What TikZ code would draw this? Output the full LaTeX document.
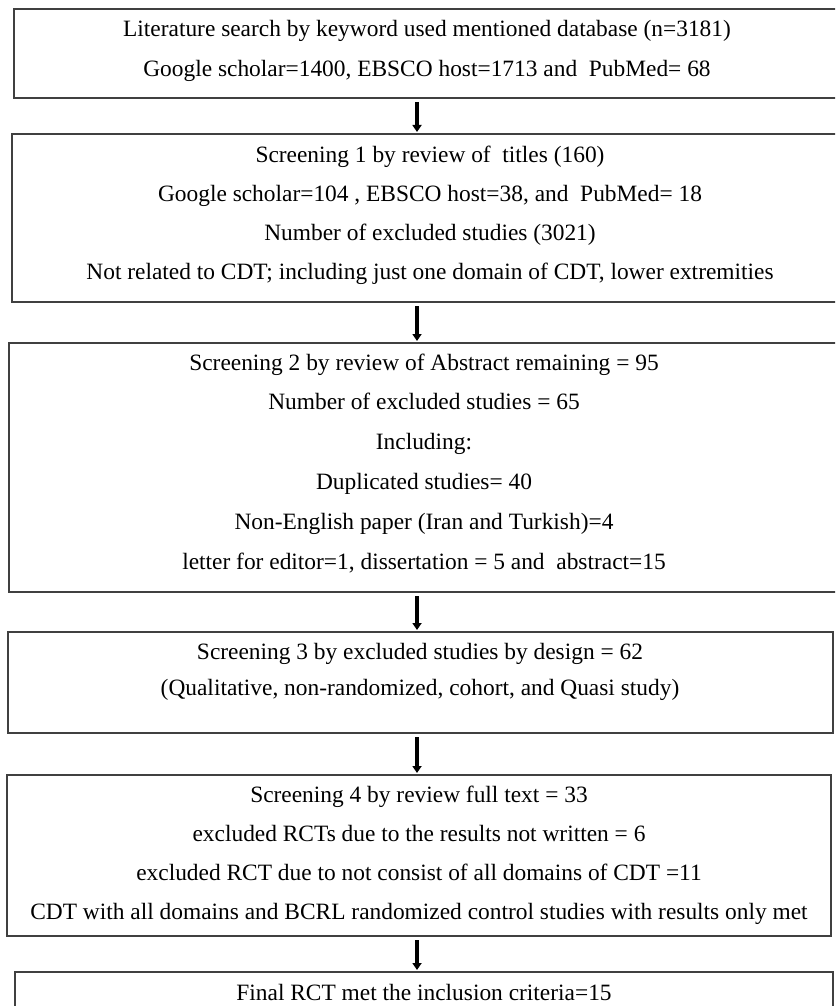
\documentclass[tikz,border=0pt]{standalone}
\usepackage{fontspec}
\setmainfont{Liberation Serif}
\usetikzlibrary{arrows.meta}
\setlength\tabcolsep{0pt}
\begin{document}
\begin{tikzpicture}[x=1pt,y=-1pt,
  stagebox/.style={draw=black!75, line width=2.6pt, anchor=north west, inner sep=0pt, outer sep=0pt},
  txt/.style={anchor=base, inner sep=0pt, text=black},
  flow/.style={draw=black, line width=3.6pt, -{Triangle[width=9pt,length=7pt]}, shorten <=4pt, shorten >=2pt}
]
\useasboundingbox (0,0) rectangle (835,1006);
\clip (0,0) rectangle (835,1006);
\fill[white] (0,0) rectangle (835,1006);

\node[stagebox, minimum width=831pt, minimum height=89pt]  (b1) at (14,9) {};
\node[stagebox, minimum width=836pt, minimum height=168pt] (b2) at (12,134) {};
\node[stagebox, minimum width=830pt, minimum height=249pt] (b3) at (9,343) {};
\node[stagebox, minimum width=825pt, minimum height=101pt] (b4) at (8,632) {};
\node[stagebox, minimum width=824pt, minimum height=161pt] (b5) at (7,775) {};
\node[stagebox, minimum width=818pt, minimum height=60pt]  (b6) at (15,972) {};

\node[txt] (t1) at (427,37) {\fontsize{23.4}{40}\selectfont\begin{tabular}[t]{c}
Literature search by keyword used mentioned database (n=3181)\\
Google scholar=1400, EBSCO host=1713 and~ PubMed= 68
\end{tabular}};

\node[txt] (t2) at (430,162) {\fontsize{23.4}{39}\selectfont\begin{tabular}[t]{c}
Screening 1 by review of~ titles (160)\\
Google scholar=104 , EBSCO host=38, and~ PubMed= 18\\
Number of excluded studies (3021)\\
Not related to CDT; including just one domain of CDT, lower extremities
\end{tabular}};

\node[txt] (t3) at (424,370) {\fontsize{23.4}{39.8}\selectfont\begin{tabular}[t]{c}
Screening 2 by review of Abstract remaining = 95\\
Number of excluded studies = 65\\
Including:\\
Duplicated studies= 40\\
Non-English paper (Iran and Turkish)=4\\
letter for editor=1, dissertation = 5 and~ abstract=15
\end{tabular}};

\node[txt] (t4) at (420,659) {\fontsize{23.4}{36}\selectfont\begin{tabular}[t]{c}
Screening 3 by excluded studies by design = 62\\
(Qualitative, non-randomized, cohort, and Quasi study)
\end{tabular}};

\node[txt] (t5) at (419,802) {\fontsize{23.4}{39.3}\selectfont\begin{tabular}[t]{c}
Screening 4 by review full text = 33\\
excluded RCTs due to the results not written = 6\\
excluded RCT due to not consist of all domains of CDT =11\\
CDT with all domains and BCRL randomized control studies with results only met
\end{tabular}};

\node[txt] (t6) at (424,1000) {\fontsize{23.4}{40}\selectfont Final RCT met the inclusion criteria=15};

\coordinate (ax) at (417,0);
\draw[flow] (b1.south -| ax) -- (b2.north -| ax);
\draw[flow] (b2.south -| ax) -- (b3.north -| ax);
\draw[flow] (b3.south -| ax) -- (b4.north -| ax);
\draw[flow] (b4.south -| ax) -- (b5.north -| ax);
\draw[flow] (b5.south -| ax) -- (b6.north -| ax);
\end{tikzpicture}
\end{document}
